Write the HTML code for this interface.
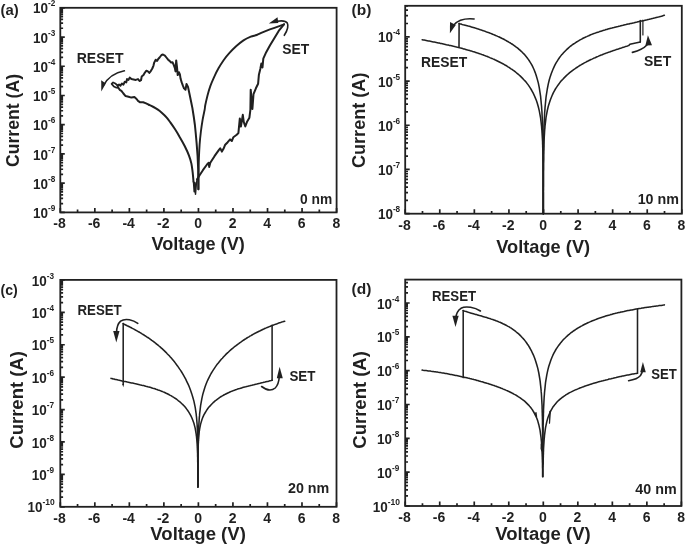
<!DOCTYPE html>
<html><head><meta charset="utf-8"><title>I-V curves</title>
<style>html,body{margin:0;padding:0;background:#fff}svg{display:block;filter:grayscale(1)}text{font-family:"Liberation Sans", sans-serif}</style>
</head><body>
<svg width="685" height="545" viewBox="0 0 685 545" font-family='"Liberation Sans", sans-serif' fill="#231f20">
<rect width="685" height="545" fill="#fff"/>
<rect x="60.30" y="7.80" width="276.30" height="204.60" fill="none" stroke="#231f20" stroke-width="1.8"/>
<path d="M60.30,212.40v-4.50M77.57,212.40v-2.80M94.84,212.40v-4.50M112.11,212.40v-2.80M129.38,212.40v-4.50M146.64,212.40v-2.80M163.91,212.40v-4.50M181.18,212.40v-2.80M198.45,212.40v-4.50M215.72,212.40v-2.80M232.99,212.40v-4.50M250.26,212.40v-2.80M267.53,212.40v-4.50M284.79,212.40v-2.80M302.06,212.40v-4.50M319.33,212.40v-2.80M336.60,212.40v-4.50M60.30,212.40h4.50M60.30,203.60h2.80M60.30,198.45h2.80M60.30,194.80h2.80M60.30,191.97h2.80M60.30,189.66h2.80M60.30,187.70h2.80M60.30,186.00h2.80M60.30,184.51h2.80M60.30,183.17h4.50M60.30,174.37h2.80M60.30,169.23h2.80M60.30,165.57h2.80M60.30,162.74h2.80M60.30,160.43h2.80M60.30,158.47h2.80M60.30,156.78h2.80M60.30,155.28h2.80M60.30,153.94h4.50M60.30,145.14h2.80M60.30,140.00h2.80M60.30,136.35h2.80M60.30,133.51h2.80M60.30,131.20h2.80M60.30,129.24h2.80M60.30,127.55h2.80M60.30,126.05h2.80M60.30,124.71h4.50M60.30,115.92h2.80M60.30,110.77h2.80M60.30,107.12h2.80M60.30,104.28h2.80M60.30,101.97h2.80M60.30,100.01h2.80M60.30,98.32h2.80M60.30,96.82h2.80M60.30,95.49h4.50M60.30,86.69h2.80M60.30,81.54h2.80M60.30,77.89h2.80M60.30,75.06h2.80M60.30,72.74h2.80M60.30,70.78h2.80M60.30,69.09h2.80M60.30,67.59h2.80M60.30,66.26h4.50M60.30,57.46h2.80M60.30,52.31h2.80M60.30,48.66h2.80M60.30,45.83h2.80M60.30,43.51h2.80M60.30,41.56h2.80M60.30,39.86h2.80M60.30,38.37h2.80M60.30,37.03h4.50M60.30,28.23h2.80M60.30,23.08h2.80M60.30,19.43h2.80M60.30,16.60h2.80M60.30,14.28h2.80M60.30,12.33h2.80M60.30,10.63h2.80M60.30,9.14h2.80M60.30,7.80h4.50" fill="none" stroke="#231f20" stroke-width="1.7"/>
<text x="59.60" y="228.20" font-size="14" font-weight="bold" text-anchor="middle">-8</text>
<text x="94.14" y="228.20" font-size="14" font-weight="bold" text-anchor="middle">-6</text>
<text x="128.68" y="228.20" font-size="14" font-weight="bold" text-anchor="middle">-4</text>
<text x="163.21" y="228.20" font-size="14" font-weight="bold" text-anchor="middle">-2</text>
<text x="198.15" y="228.20" font-size="14" font-weight="bold" text-anchor="middle">0</text>
<text x="232.69" y="228.20" font-size="14" font-weight="bold" text-anchor="middle">2</text>
<text x="267.23" y="228.20" font-size="14" font-weight="bold" text-anchor="middle">4</text>
<text x="301.76" y="228.20" font-size="14" font-weight="bold" text-anchor="middle">6</text>
<text x="336.30" y="228.20" font-size="14" font-weight="bold" text-anchor="middle">8</text>
<text x="48.00" y="218.00" font-size="14.5" font-weight="bold" text-anchor="end" textLength="15.0" lengthAdjust="spacingAndGlyphs">10</text>
<text x="48.00" y="211.00" font-size="8.4" font-weight="bold" text-anchor="start" textLength="7.3" lengthAdjust="spacingAndGlyphs">-9</text>
<text x="48.00" y="188.77" font-size="14.5" font-weight="bold" text-anchor="end" textLength="15.0" lengthAdjust="spacingAndGlyphs">10</text>
<text x="48.00" y="181.77" font-size="8.4" font-weight="bold" text-anchor="start" textLength="7.3" lengthAdjust="spacingAndGlyphs">-8</text>
<text x="48.00" y="159.54" font-size="14.5" font-weight="bold" text-anchor="end" textLength="15.0" lengthAdjust="spacingAndGlyphs">10</text>
<text x="48.00" y="152.54" font-size="8.4" font-weight="bold" text-anchor="start" textLength="7.3" lengthAdjust="spacingAndGlyphs">-7</text>
<text x="48.00" y="130.31" font-size="14.5" font-weight="bold" text-anchor="end" textLength="15.0" lengthAdjust="spacingAndGlyphs">10</text>
<text x="48.00" y="123.31" font-size="8.4" font-weight="bold" text-anchor="start" textLength="7.3" lengthAdjust="spacingAndGlyphs">-6</text>
<text x="48.00" y="101.09" font-size="14.5" font-weight="bold" text-anchor="end" textLength="15.0" lengthAdjust="spacingAndGlyphs">10</text>
<text x="48.00" y="94.09" font-size="8.4" font-weight="bold" text-anchor="start" textLength="7.3" lengthAdjust="spacingAndGlyphs">-5</text>
<text x="48.00" y="71.86" font-size="14.5" font-weight="bold" text-anchor="end" textLength="15.0" lengthAdjust="spacingAndGlyphs">10</text>
<text x="48.00" y="64.86" font-size="8.4" font-weight="bold" text-anchor="start" textLength="7.3" lengthAdjust="spacingAndGlyphs">-4</text>
<text x="48.00" y="42.63" font-size="14.5" font-weight="bold" text-anchor="end" textLength="15.0" lengthAdjust="spacingAndGlyphs">10</text>
<text x="48.00" y="35.63" font-size="8.4" font-weight="bold" text-anchor="start" textLength="7.3" lengthAdjust="spacingAndGlyphs">-3</text>
<text x="48.00" y="13.40" font-size="14.5" font-weight="bold" text-anchor="end" textLength="15.0" lengthAdjust="spacingAndGlyphs">10</text>
<text x="48.00" y="6.40" font-size="8.4" font-weight="bold" text-anchor="start" textLength="7.3" lengthAdjust="spacingAndGlyphs">-2</text>
<rect x="405.20" y="5.80" width="276.60" height="207.90" fill="none" stroke="#231f20" stroke-width="1.8"/>
<path d="M405.20,213.70v-4.50M422.49,213.70v-2.80M439.77,213.70v-4.50M457.06,213.70v-2.80M474.35,213.70v-4.50M491.64,213.70v-2.80M508.93,213.70v-4.50M526.21,213.70v-2.80M543.50,213.70v-4.50M560.79,213.70v-2.80M578.08,213.70v-4.50M595.36,213.70v-2.80M612.65,213.70v-4.50M629.94,213.70v-2.80M647.23,213.70v-4.50M664.51,213.70v-2.80M681.80,213.70v-4.50M405.20,213.70h4.50M405.20,200.39h2.80M405.20,192.60h2.80M405.20,187.07h2.80M405.20,182.79h2.80M405.20,179.29h2.80M405.20,176.33h2.80M405.20,173.76h2.80M405.20,171.50h2.80M405.20,169.47h4.50M405.20,156.16h2.80M405.20,148.37h2.80M405.20,142.85h2.80M405.20,138.56h2.80M405.20,135.06h2.80M405.20,132.10h2.80M405.20,129.54h2.80M405.20,127.27h2.80M405.20,125.25h4.50M405.20,111.94h2.80M405.20,104.15h2.80M405.20,98.62h2.80M405.20,94.34h2.80M405.20,90.84h2.80M405.20,87.88h2.80M405.20,85.31h2.80M405.20,83.05h2.80M405.20,81.03h4.50M405.20,67.71h2.80M405.20,59.92h2.80M405.20,54.40h2.80M405.20,50.11h2.80M405.20,46.61h2.80M405.20,43.65h2.80M405.20,41.09h2.80M405.20,38.82h2.80M405.20,36.80h4.50M405.20,23.49h2.80M405.20,15.70h2.80M405.20,10.17h2.80M405.20,5.89h2.80" fill="none" stroke="#231f20" stroke-width="1.7"/>
<text x="404.50" y="229.50" font-size="14" font-weight="bold" text-anchor="middle">-8</text>
<text x="439.07" y="229.50" font-size="14" font-weight="bold" text-anchor="middle">-6</text>
<text x="473.65" y="229.50" font-size="14" font-weight="bold" text-anchor="middle">-4</text>
<text x="508.23" y="229.50" font-size="14" font-weight="bold" text-anchor="middle">-2</text>
<text x="543.20" y="229.50" font-size="14" font-weight="bold" text-anchor="middle">0</text>
<text x="577.78" y="229.50" font-size="14" font-weight="bold" text-anchor="middle">2</text>
<text x="612.35" y="229.50" font-size="14" font-weight="bold" text-anchor="middle">4</text>
<text x="646.93" y="229.50" font-size="14" font-weight="bold" text-anchor="middle">6</text>
<text x="681.50" y="229.50" font-size="14" font-weight="bold" text-anchor="middle">8</text>
<text x="392.90" y="219.30" font-size="14.5" font-weight="bold" text-anchor="end" textLength="15.0" lengthAdjust="spacingAndGlyphs">10</text>
<text x="392.90" y="212.30" font-size="8.4" font-weight="bold" text-anchor="start" textLength="7.3" lengthAdjust="spacingAndGlyphs">-8</text>
<text x="392.90" y="175.07" font-size="14.5" font-weight="bold" text-anchor="end" textLength="15.0" lengthAdjust="spacingAndGlyphs">10</text>
<text x="392.90" y="168.07" font-size="8.4" font-weight="bold" text-anchor="start" textLength="7.3" lengthAdjust="spacingAndGlyphs">-7</text>
<text x="392.90" y="130.85" font-size="14.5" font-weight="bold" text-anchor="end" textLength="15.0" lengthAdjust="spacingAndGlyphs">10</text>
<text x="392.90" y="123.85" font-size="8.4" font-weight="bold" text-anchor="start" textLength="7.3" lengthAdjust="spacingAndGlyphs">-6</text>
<text x="392.90" y="86.62" font-size="14.5" font-weight="bold" text-anchor="end" textLength="15.0" lengthAdjust="spacingAndGlyphs">10</text>
<text x="392.90" y="79.62" font-size="8.4" font-weight="bold" text-anchor="start" textLength="7.3" lengthAdjust="spacingAndGlyphs">-5</text>
<text x="392.90" y="42.40" font-size="14.5" font-weight="bold" text-anchor="end" textLength="15.0" lengthAdjust="spacingAndGlyphs">10</text>
<text x="392.90" y="35.40" font-size="8.4" font-weight="bold" text-anchor="start" textLength="7.3" lengthAdjust="spacingAndGlyphs">-4</text>
<rect x="60.30" y="279.90" width="276.20" height="226.90" fill="none" stroke="#231f20" stroke-width="1.8"/>
<path d="M60.30,506.80v-4.50M77.56,506.80v-2.80M94.83,506.80v-4.50M112.09,506.80v-2.80M129.35,506.80v-4.50M146.61,506.80v-2.80M163.88,506.80v-4.50M181.14,506.80v-2.80M198.40,506.80v-4.50M215.66,506.80v-2.80M232.93,506.80v-4.50M250.19,506.80v-2.80M267.45,506.80v-4.50M284.71,506.80v-2.80M301.98,506.80v-4.50M319.24,506.80v-2.80M336.50,506.80v-4.50M60.30,506.80h4.50M60.30,497.04h2.80M60.30,491.33h2.80M60.30,487.28h2.80M60.30,484.14h2.80M60.30,481.58h2.80M60.30,479.41h2.80M60.30,477.53h2.80M60.30,475.87h2.80M60.30,474.39h4.50M60.30,464.63h2.80M60.30,458.92h2.80M60.30,454.87h2.80M60.30,451.73h2.80M60.30,449.16h2.80M60.30,446.99h2.80M60.30,445.11h2.80M60.30,443.45h2.80M60.30,441.97h4.50M60.30,432.21h2.80M60.30,426.51h2.80M60.30,422.46h2.80M60.30,419.31h2.80M60.30,416.75h2.80M60.30,414.58h2.80M60.30,412.70h2.80M60.30,411.04h2.80M60.30,409.56h4.50M60.30,399.80h2.80M60.30,394.09h2.80M60.30,390.04h2.80M60.30,386.90h2.80M60.30,384.33h2.80M60.30,382.16h2.80M60.30,380.28h2.80M60.30,378.63h2.80M60.30,377.14h4.50M60.30,367.39h2.80M60.30,361.68h2.80M60.30,357.63h2.80M60.30,354.49h2.80M60.30,351.92h2.80M60.30,349.75h2.80M60.30,347.87h2.80M60.30,346.21h2.80M60.30,344.73h4.50M60.30,334.97h2.80M60.30,329.26h2.80M60.30,325.21h2.80M60.30,322.07h2.80M60.30,319.51h2.80M60.30,317.34h2.80M60.30,315.46h2.80M60.30,313.80h2.80M60.30,312.31h4.50M60.30,302.56h2.80M60.30,296.85h2.80M60.30,292.80h2.80M60.30,289.66h2.80M60.30,287.09h2.80M60.30,284.92h2.80M60.30,283.04h2.80M60.30,281.38h2.80M60.30,279.90h4.50" fill="none" stroke="#231f20" stroke-width="1.7"/>
<text x="59.60" y="522.60" font-size="14" font-weight="bold" text-anchor="middle">-8</text>
<text x="94.13" y="522.60" font-size="14" font-weight="bold" text-anchor="middle">-6</text>
<text x="128.65" y="522.60" font-size="14" font-weight="bold" text-anchor="middle">-4</text>
<text x="163.18" y="522.60" font-size="14" font-weight="bold" text-anchor="middle">-2</text>
<text x="198.10" y="522.60" font-size="14" font-weight="bold" text-anchor="middle">0</text>
<text x="232.62" y="522.60" font-size="14" font-weight="bold" text-anchor="middle">2</text>
<text x="267.15" y="522.60" font-size="14" font-weight="bold" text-anchor="middle">4</text>
<text x="301.68" y="522.60" font-size="14" font-weight="bold" text-anchor="middle">6</text>
<text x="336.20" y="522.60" font-size="14" font-weight="bold" text-anchor="middle">8</text>
<text x="42.40" y="512.40" font-size="14.5" font-weight="bold" text-anchor="end" textLength="15.0" lengthAdjust="spacingAndGlyphs">10</text>
<text x="42.40" y="505.40" font-size="8.4" font-weight="bold" text-anchor="start" textLength="12.3" lengthAdjust="spacingAndGlyphs">-10</text>
<text x="46.80" y="479.99" font-size="14.5" font-weight="bold" text-anchor="end" textLength="15.0" lengthAdjust="spacingAndGlyphs">10</text>
<text x="46.80" y="472.99" font-size="8.4" font-weight="bold" text-anchor="start" textLength="7.3" lengthAdjust="spacingAndGlyphs">-9</text>
<text x="46.80" y="447.57" font-size="14.5" font-weight="bold" text-anchor="end" textLength="15.0" lengthAdjust="spacingAndGlyphs">10</text>
<text x="46.80" y="440.57" font-size="8.4" font-weight="bold" text-anchor="start" textLength="7.3" lengthAdjust="spacingAndGlyphs">-8</text>
<text x="46.80" y="415.16" font-size="14.5" font-weight="bold" text-anchor="end" textLength="15.0" lengthAdjust="spacingAndGlyphs">10</text>
<text x="46.80" y="408.16" font-size="8.4" font-weight="bold" text-anchor="start" textLength="7.3" lengthAdjust="spacingAndGlyphs">-7</text>
<text x="46.80" y="382.74" font-size="14.5" font-weight="bold" text-anchor="end" textLength="15.0" lengthAdjust="spacingAndGlyphs">10</text>
<text x="46.80" y="375.74" font-size="8.4" font-weight="bold" text-anchor="start" textLength="7.3" lengthAdjust="spacingAndGlyphs">-6</text>
<text x="46.80" y="350.33" font-size="14.5" font-weight="bold" text-anchor="end" textLength="15.0" lengthAdjust="spacingAndGlyphs">10</text>
<text x="46.80" y="343.33" font-size="8.4" font-weight="bold" text-anchor="start" textLength="7.3" lengthAdjust="spacingAndGlyphs">-5</text>
<text x="46.80" y="317.91" font-size="14.5" font-weight="bold" text-anchor="end" textLength="15.0" lengthAdjust="spacingAndGlyphs">10</text>
<text x="46.80" y="310.91" font-size="8.4" font-weight="bold" text-anchor="start" textLength="7.3" lengthAdjust="spacingAndGlyphs">-4</text>
<text x="46.80" y="285.50" font-size="14.5" font-weight="bold" text-anchor="end" textLength="15.0" lengthAdjust="spacingAndGlyphs">10</text>
<text x="46.80" y="278.50" font-size="8.4" font-weight="bold" text-anchor="start" textLength="7.3" lengthAdjust="spacingAndGlyphs">-3</text>
<rect x="405.20" y="279.60" width="276.20" height="226.40" fill="none" stroke="#231f20" stroke-width="1.8"/>
<path d="M405.20,506.00v-4.50M422.46,506.00v-2.80M439.72,506.00v-4.50M456.99,506.00v-2.80M474.25,506.00v-4.50M491.51,506.00v-2.80M508.77,506.00v-4.50M526.04,506.00v-2.80M543.30,506.00v-4.50M560.56,506.00v-2.80M577.82,506.00v-4.50M595.09,506.00v-2.80M612.35,506.00v-4.50M629.61,506.00v-2.80M646.88,506.00v-4.50M664.14,506.00v-2.80M681.40,506.00v-4.50M405.20,506.00h4.50M405.20,495.82h2.80M405.20,489.86h2.80M405.20,485.63h2.80M405.20,482.35h2.80M405.20,479.67h2.80M405.20,477.41h2.80M405.20,475.45h2.80M405.20,473.72h2.80M405.20,472.17h4.50M405.20,461.98h2.80M405.20,456.02h2.80M405.20,451.80h2.80M405.20,448.52h2.80M405.20,445.84h2.80M405.20,443.57h2.80M405.20,441.61h2.80M405.20,439.88h2.80M405.20,438.33h4.50M405.20,428.15h2.80M405.20,422.19h2.80M405.20,417.96h2.80M405.20,414.69h2.80M405.20,412.01h2.80M405.20,409.74h2.80M405.20,407.78h2.80M405.20,406.05h2.80M405.20,404.50h4.50M405.20,394.32h2.80M405.20,388.36h2.80M405.20,384.13h2.80M405.20,380.85h2.80M405.20,378.17h2.80M405.20,375.91h2.80M405.20,373.95h2.80M405.20,372.22h2.80M405.20,370.67h4.50M405.20,360.48h2.80M405.20,354.53h2.80M405.20,350.30h2.80M405.20,347.02h2.80M405.20,344.34h2.80M405.20,342.08h2.80M405.20,340.11h2.80M405.20,338.38h2.80M405.20,336.84h4.50M405.20,326.65h2.80M405.20,320.69h2.80M405.20,316.47h2.80M405.20,313.19h2.80M405.20,310.51h2.80M405.20,308.24h2.80M405.20,306.28h2.80M405.20,304.55h2.80M405.20,303.00h4.50M405.20,292.82h2.80M405.20,286.86h2.80M405.20,282.63h2.80" fill="none" stroke="#231f20" stroke-width="1.7"/>
<text x="404.50" y="521.80" font-size="14" font-weight="bold" text-anchor="middle">-8</text>
<text x="439.02" y="521.80" font-size="14" font-weight="bold" text-anchor="middle">-6</text>
<text x="473.55" y="521.80" font-size="14" font-weight="bold" text-anchor="middle">-4</text>
<text x="508.07" y="521.80" font-size="14" font-weight="bold" text-anchor="middle">-2</text>
<text x="543.00" y="521.80" font-size="14" font-weight="bold" text-anchor="middle">0</text>
<text x="577.52" y="521.80" font-size="14" font-weight="bold" text-anchor="middle">2</text>
<text x="612.05" y="521.80" font-size="14" font-weight="bold" text-anchor="middle">4</text>
<text x="646.58" y="521.80" font-size="14" font-weight="bold" text-anchor="middle">6</text>
<text x="681.10" y="521.80" font-size="14" font-weight="bold" text-anchor="middle">8</text>
<text x="387.70" y="511.60" font-size="14.5" font-weight="bold" text-anchor="end" textLength="15.0" lengthAdjust="spacingAndGlyphs">10</text>
<text x="387.70" y="504.60" font-size="8.4" font-weight="bold" text-anchor="start" textLength="12.3" lengthAdjust="spacingAndGlyphs">-10</text>
<text x="392.10" y="477.77" font-size="14.5" font-weight="bold" text-anchor="end" textLength="15.0" lengthAdjust="spacingAndGlyphs">10</text>
<text x="392.10" y="470.77" font-size="8.4" font-weight="bold" text-anchor="start" textLength="7.3" lengthAdjust="spacingAndGlyphs">-9</text>
<text x="392.10" y="443.93" font-size="14.5" font-weight="bold" text-anchor="end" textLength="15.0" lengthAdjust="spacingAndGlyphs">10</text>
<text x="392.10" y="436.93" font-size="8.4" font-weight="bold" text-anchor="start" textLength="7.3" lengthAdjust="spacingAndGlyphs">-8</text>
<text x="392.10" y="410.10" font-size="14.5" font-weight="bold" text-anchor="end" textLength="15.0" lengthAdjust="spacingAndGlyphs">10</text>
<text x="392.10" y="403.10" font-size="8.4" font-weight="bold" text-anchor="start" textLength="7.3" lengthAdjust="spacingAndGlyphs">-7</text>
<text x="392.10" y="376.27" font-size="14.5" font-weight="bold" text-anchor="end" textLength="15.0" lengthAdjust="spacingAndGlyphs">10</text>
<text x="392.10" y="369.27" font-size="8.4" font-weight="bold" text-anchor="start" textLength="7.3" lengthAdjust="spacingAndGlyphs">-6</text>
<text x="392.10" y="342.44" font-size="14.5" font-weight="bold" text-anchor="end" textLength="15.0" lengthAdjust="spacingAndGlyphs">10</text>
<text x="392.10" y="335.44" font-size="8.4" font-weight="bold" text-anchor="start" textLength="7.3" lengthAdjust="spacingAndGlyphs">-5</text>
<text x="392.10" y="308.60" font-size="14.5" font-weight="bold" text-anchor="end" textLength="15.0" lengthAdjust="spacingAndGlyphs">10</text>
<text x="392.10" y="301.60" font-size="8.4" font-weight="bold" text-anchor="start" textLength="7.3" lengthAdjust="spacingAndGlyphs">-4</text>
<text x="198.15" y="249.80" font-size="17.5" font-weight="bold" text-anchor="middle" textLength="93.3" lengthAdjust="spacingAndGlyphs">Voltage (V)</text>
<text transform="translate(19.20,120.50) rotate(-90)" font-size="17.5" font-weight="bold" text-anchor="middle" textLength="93.0" lengthAdjust="spacingAndGlyphs">Current (A)</text>
<text x="543.20" y="252.90" font-size="17.8" font-weight="bold" text-anchor="middle" textLength="93.8" lengthAdjust="spacingAndGlyphs">Voltage (V)</text>
<text transform="translate(365.30,120.30) rotate(-90)" font-size="17.8" font-weight="bold" text-anchor="middle" textLength="95.5" lengthAdjust="spacingAndGlyphs">Current (A)</text>
<text x="198.10" y="539.80" font-size="18.3" font-weight="bold" text-anchor="middle" textLength="95.5" lengthAdjust="spacingAndGlyphs">Voltage (V)</text>
<text transform="translate(22.60,399.90) rotate(-90)" font-size="18.3" font-weight="bold" text-anchor="middle" textLength="97.5" lengthAdjust="spacingAndGlyphs">Current (A)</text>
<text x="543.00" y="540.00" font-size="18.3" font-weight="bold" text-anchor="middle" textLength="95.5" lengthAdjust="spacingAndGlyphs">Voltage (V)</text>
<text transform="translate(365.80,399.90) rotate(-90)" font-size="18.3" font-weight="bold" text-anchor="middle" textLength="97.5" lengthAdjust="spacingAndGlyphs">Current (A)</text>
<text x="0.50" y="14.90" font-size="15" font-weight="bold" text-anchor="start" textLength="18.2" lengthAdjust="spacingAndGlyphs">(a)</text>
<text x="351.50" y="14.60" font-size="15" font-weight="bold" text-anchor="start" textLength="19.8" lengthAdjust="spacingAndGlyphs">(b)</text>
<text x="0.50" y="294.80" font-size="15" font-weight="bold" text-anchor="start" textLength="17.3" lengthAdjust="spacingAndGlyphs">(c)</text>
<text x="351.50" y="294.30" font-size="15" font-weight="bold" text-anchor="start" textLength="19.8" lengthAdjust="spacingAndGlyphs">(d)</text>
<text x="332.20" y="203.80" font-size="13.8" font-weight="bold" text-anchor="end">0 nm</text>
<text x="679.00" y="204.00" font-size="14.3" font-weight="bold" text-anchor="end">10 nm</text>
<text x="329.30" y="493.20" font-size="14.3" font-weight="bold" text-anchor="end">20 nm</text>
<text x="676.70" y="493.70" font-size="14.3" font-weight="bold" text-anchor="end">40 nm</text>
<path d="M117.5,85.4 L115.3,83.5 L113.1,82.4 L111.6,83.9 L113.8,86.4 L116.0,87.6 L118.2,87.6 L117.5,85.4" fill="none" stroke="#231f20" stroke-width="1.7" stroke-linejoin="round" stroke-linecap="round"/>
<path d="M117.5,85.4 L119.0,84.6 L120.4,85.8 L121.9,83.5 L123.4,84.6 L124.8,81.7 L126.3,82.4 L127.0,79.1 L128.5,79.9 L129.7,77.6 L131.4,79.1 L133.6,79.5 L135.8,79.9 L138.0,79.1 L139.5,81.0 L141.0,80.2 L141.7,76.6 L143.5,75.1 L144.9,72.6 L146.4,70.7 L147.9,71.4 L149.3,72.9 L150.8,71.1 L152.3,68.5 L153.5,65.6 L154.2,62.6 L155.7,59.7 L157.1,60.9 L158.2,59.0 L159.6,57.5 L161.5,55.0 L163.0,54.5 L164.9,55.6 L166.4,57.5 L168.1,59.7 L169.6,60.9 L171.1,62.6 L172.5,62.3 L173.7,64.8 L174.8,67.8 L175.5,71.4 L176.2,60.4 L177.0,67.0 L177.7,75.1 L178.9,72.2 L179.9,74.4 L180.6,78.8 L181.7,82.4 L182.8,85.4 L184.0,88.3 L185.5,89.8 L186.5,83.9 L188.0,86.9 L189.4,93.5 L190.9,100.8 L192.4,108.1 L193.8,117.0 L194.9,125.0 L195.7,133.0 L196.6,143.0 L197.6,156.2 L198.2,169.4 L198.4,189.2" fill="none" stroke="#231f20" stroke-width="2.0" stroke-linejoin="round" stroke-linecap="round"/>
<path d="M198.4,189.2 C198.4,186.4 198.5,177.9 198.6,172.7 C198.7,167.5 198.7,162.6 198.9,157.9 C199.1,153.2 199.3,149.1 199.6,144.7 C199.9,140.3 200.4,135.6 200.9,131.5 C201.4,127.4 202.0,123.5 202.6,119.9 C203.2,116.3 204.1,112.5 204.6,110.0 C205.1,107.5 204.8,107.4 205.3,105.0 C205.8,102.6 206.7,98.7 207.5,95.5 C208.3,92.3 209.3,89.0 210.4,85.9 C211.5,82.8 212.8,80.0 214.1,77.1 C215.4,74.2 216.9,71.1 218.5,68.3 C220.1,65.5 221.8,62.8 223.6,60.2 C225.4,57.6 227.4,55.2 229.5,52.9 C231.6,50.6 233.8,48.4 236.1,46.3 C238.4,44.2 241.1,42.0 243.5,40.4 C245.9,38.8 248.6,37.6 250.8,36.7 C253.0,35.8 254.8,35.7 256.7,35.0 C258.6,34.3 260.3,33.2 262.5,32.3 C264.7,31.4 267.4,30.3 269.9,29.4 C272.3,28.5 274.8,27.6 277.2,26.8 C279.6,26.0 282.9,24.7 284.0,24.3" fill="none" stroke="#231f20" stroke-width="1.9" stroke-linejoin="round" stroke-linecap="round"/>
<path d="M118.2,87.6 L119.7,89.8 L121.4,90.8 L123.4,93.5 L125.6,96.1 L128.5,96.7 L131.4,97.6 L134.4,97.1 L136.6,99.0 L138.0,100.8 L140.2,102.3 L143.2,102.3 L146.1,103.4 L149.1,104.9" fill="none" stroke="#231f20" stroke-width="2.0" stroke-linejoin="round" stroke-linecap="round"/>
<path d="M149.1,104.9 C149.8,105.2 152.0,106.2 153.5,107.0 C155.0,107.8 156.4,108.7 157.9,109.7 C159.4,110.7 160.8,111.9 162.3,113.2 C163.8,114.5 165.3,116.0 166.7,117.6 C168.1,119.2 169.1,120.7 170.5,122.6 C171.9,124.5 173.3,126.6 174.9,129.0 C176.5,131.4 178.2,134.3 179.8,137.2 C181.5,140.1 183.3,143.3 184.8,146.3 C186.3,149.3 187.8,152.5 188.9,155.4 C190.0,158.3 190.8,160.7 191.4,163.6 C192.0,166.5 192.3,169.7 192.7,172.7 C193.0,175.7 193.4,180.3 193.5,181.8" fill="none" stroke="#231f20" stroke-width="2.0" stroke-linejoin="round" stroke-linecap="round"/>
<path d="M193.5,181.8 L194.2,191.7 L194.8,182.6 L195.5,194.2 L196.3,184.3 L197.1,179.3" fill="none" stroke="#231f20" stroke-width="1.5" stroke-linejoin="round" stroke-linecap="round"/>
<path d="M197.1,179.3 L199.6,175.2 L202.9,170.2 L207.0,164.5 L208.7,162.8 L209.2,166.9 L210.3,162.8 L214.5,156.2 L218.6,150.4 L220.2,148.3 L221.9,151.6 L223.5,148.8 L225.2,144.7 L227.7,142.2 L230.1,139.4 L231.8,141.0 L233.4,137.2 L236.7,134.8 L238.4,133.1 L239.8,118.5 L240.9,126.5 L242.8,114.8 L243.8,122.1 L245.3,126.5 L247.2,121.4 L249.4,117.7 L250.4,109.6 L250.7,89.7 L252.4,108.9 L253.5,94.2 L255.9,88.3 L258.1,83.8 L258.9,74.7 L260.3,69.0 L261.3,63.6 L262.5,67.5 L263.3,58.6 L266.2,52.2 L269.9,45.6 L274.3,38.2 L278.7,30.9 L284.0,24.3" fill="none" stroke="#231f20" stroke-width="2.0" stroke-linejoin="round" stroke-linecap="round"/>
<path d="M124.4,70.8 C116,72.5 108,77 103.5,85.5" fill="none" stroke="#231f20" stroke-width="1.6" stroke-linecap="round"/>
<path d="M101.3,91.6 L101.2,80.3 L105.8,83.6Z" fill="#231f20"/>
<path d="M284.3,35.3 C287,31 288.8,26 287.3,23 C285.5,20.3 281,20.6 277,21.3" fill="none" stroke="#231f20" stroke-width="1.6" stroke-linecap="round"/>
<path d="M268.8,23.6 L277.5,17.3 L278.3,23.0Z" fill="#231f20"/>
<text x="76.70" y="63.40" font-size="15" font-weight="bold" text-anchor="start" textLength="46.8" lengthAdjust="spacingAndGlyphs">RESET</text>
<text x="282.30" y="53.50" font-size="15" font-weight="bold" text-anchor="start" textLength="27.0" lengthAdjust="spacingAndGlyphs">SET</text>
<path d="M543.3,213.7 L543.3,212.4 L543.3,210.3 L543.3,208.2 L543.3,206.0 L543.3,203.9 L543.3,201.8 L543.3,199.7 L543.3,197.6 L543.3,195.5 L543.3,193.3 L543.3,191.2 L543.3,189.1 L543.2,187.0 L543.2,184.9 L543.2,182.8 L543.2,180.7 L543.2,178.6 L543.2,176.4 L543.2,174.3 L543.2,172.2 L543.2,170.1 L543.2,168.0 L543.2,165.9 L543.2,163.8 L543.1,161.6 L543.1,159.5 L543.1,157.4 L543.1,155.3 L543.1,153.2 L543.1,151.1 L543.0,149.0 L543.0,146.8 L543.0,144.7 L543.0,142.6 L542.9,140.5 L542.9,138.4 L542.8,136.3 L542.8,134.2 L542.7,132.1 L542.7,130.0 L542.6,127.9 L542.6,125.8 L542.5,123.7 L542.4,121.5 L542.3,119.5 L542.2,117.3 L542.1,115.2 L542.0,113.1 L541.9,111.0 L541.7,109.0 L541.6,106.8 L541.4,104.8 L541.2,102.7 L541.0,100.6 L540.8,98.5 L540.6,96.4 L540.3,94.3 L539.3,87.9 L538.3,82.9 L537.2,78.9 L536.2,75.5 L535.2,72.6 L534.2,70.0 L533.2,67.8 L532.2,65.7 L531.2,63.8 L530.1,62.1 L529.1,60.5 L528.1,59.1 L527.1,57.7 L526.1,56.5 L525.1,55.3 L524.1,54.1 L523.0,53.1 L522.0,52.0 L521.0,51.1 L520.0,50.2 L519.0,49.3 L518.0,48.4 L517.0,47.6 L515.9,46.9 L514.9,46.1 L513.9,45.4 L512.9,44.7 L511.9,44.0 L510.9,43.4 L509.9,42.7 L508.8,42.1 L507.8,41.5 L506.8,41.0 L505.8,40.4 L504.8,39.8 L503.8,39.3 L502.8,38.8 L501.7,38.3 L500.7,37.8 L499.7,37.3 L498.7,36.8 L497.7,36.4 L496.6,35.9 L495.6,35.5 L494.6,35.0 L493.6,34.6 L492.6,34.2 L491.6,33.8 L490.6,33.4 L489.6,33.0 L488.5,32.6 L487.5,32.2 L486.5,31.9 L485.5,31.5 L484.5,31.1 L483.5,30.8 L482.4,30.4 L481.4,30.1 L480.4,29.8 L479.4,29.4 L478.4,29.1 L477.4,28.8 L476.4,28.4 L475.3,28.1 L474.3,27.8 L473.3,27.5 L472.3,27.2 L471.3,26.9 L470.3,26.6 L469.2,26.3 L468.2,26.1 L467.2,25.8 L466.2,25.5 L465.2,25.2 L464.2,24.9 L463.2,24.7 L462.1,24.4 L461.1,24.1 L460.1,23.9 L459.1,23.6" fill="none" stroke="#231f20" stroke-width="1.55" stroke-linejoin="round" stroke-linecap="round"/>
<path d="M543.3,213.7 L543.3,212.4 L543.3,210.8 L543.3,209.1 L543.3,207.4 L543.3,205.7 L543.3,204.1 L543.3,202.4 L543.3,200.7 L543.3,199.0 L543.3,197.4 L543.3,195.7 L543.3,194.0 L543.3,192.3 L543.2,190.7 L543.2,189.0 L543.2,187.3 L543.2,185.6 L543.2,184.0 L543.2,182.3 L543.2,180.6 L543.2,178.9 L543.2,177.3 L543.2,175.6 L543.2,173.9 L543.2,172.2 L543.1,170.6 L543.1,168.9 L543.1,167.2 L543.1,165.5 L543.1,163.8 L543.1,162.2 L543.0,160.5 L543.0,158.8 L543.0,157.1 L543.0,155.4 L542.9,153.8 L542.9,152.1 L542.8,150.4 L542.8,148.7 L542.7,147.0 L542.7,145.3 L542.6,143.6 L542.6,141.9 L542.5,140.3 L542.4,138.6 L542.3,136.9 L542.2,135.2 L542.1,133.5 L542.0,131.8 L541.9,130.1 L541.7,128.4 L541.6,126.7 L541.4,124.9 L541.2,123.2 L541.0,121.5 L540.8,119.8 L540.6,118.0 L540.3,116.3 L539.3,110.9 L538.3,106.7 L537.3,103.2 L536.3,100.2 L535.2,97.6 L534.2,95.3 L533.2,93.2 L532.2,91.3 L531.2,89.5 L530.2,87.9 L529.2,86.4 L528.2,84.9 L527.2,83.6 L526.2,82.3 L525.2,81.1 L524.1,80.0 L523.1,78.9 L522.1,77.9 L521.1,76.9 L520.1,75.9 L519.1,75.0 L518.1,74.1 L517.1,73.3 L516.1,72.5 L515.1,71.7 L514.1,70.9 L513.0,70.2 L512.0,69.4 L511.0,68.8 L510.0,68.1 L509.0,67.4 L508.0,66.8 L507.0,66.1 L506.0,65.5 L505.0,65.0 L504.0,64.4 L502.9,63.8 L501.9,63.3 L500.9,62.7 L499.9,62.2 L498.9,61.7 L497.9,61.2 L496.9,60.7 L495.9,60.2 L494.9,59.8 L493.9,59.3 L492.9,58.9 L491.9,58.4 L490.8,58.0 L489.8,57.6 L488.8,57.1 L487.8,56.7 L486.8,56.3 L485.8,56.0 L484.8,55.6 L483.8,55.2 L482.8,54.8 L481.8,54.5 L480.8,54.1 L479.7,53.8 L478.7,53.4 L477.7,53.1 L476.7,52.7 L475.7,52.4 L474.7,52.1 L473.7,51.8 L472.7,51.5 L471.7,51.1 L470.6,50.9 L469.6,50.5 L468.6,50.2 L467.6,50.0 L466.6,49.7 L465.6,49.4 L464.6,49.1 L463.6,48.9 L462.6,48.6 L461.6,48.3 L460.6,48.0 L459.6,47.8 L458.5,47.5 L457.5,47.3 L456.5,47.0 L455.5,46.8 L454.5,46.5 L453.5,46.3 L452.5,46.0 L451.5,45.8 L450.5,45.6 L449.4,45.4 L448.4,45.1 L447.4,44.9 L446.4,44.7 L445.4,44.4 L444.4,44.2 L443.4,44.0 L442.4,43.8 L441.4,43.6 L440.4,43.4 L439.4,43.1 L438.4,42.9 L437.3,42.7 L436.3,42.5 L435.3,42.3 L434.3,42.1 L433.3,41.9 L432.3,41.7 L431.3,41.5 L430.3,41.3 L429.3,41.1 L428.3,40.9 L427.2,40.7 L426.2,40.5 L425.2,40.3 L424.2,40.1 L423.2,39.9 L422.2,39.7" fill="none" stroke="#231f20" stroke-width="1.55" stroke-linejoin="round" stroke-linecap="round"/>
<path d="M543.3,213.7 L543.3,213.3 L543.3,211.2 L543.3,209.1 L543.3,207.1 L543.3,205.0 L543.3,202.9 L543.3,200.9 L543.3,198.8 L543.3,196.8 L543.3,194.7 L543.3,192.6 L543.3,190.6 L543.3,188.5 L543.4,186.4 L543.4,184.4 L543.4,182.3 L543.4,180.2 L543.4,178.2 L543.4,176.1 L543.4,174.1 L543.4,172.0 L543.4,169.9 L543.4,167.9 L543.4,165.8 L543.4,163.7 L543.5,161.7 L543.5,159.6 L543.5,157.5 L543.5,155.5 L543.5,153.4 L543.5,151.3 L543.6,149.3 L543.6,147.2 L543.6,145.2 L543.6,143.1 L543.7,141.0 L543.7,138.9 L543.8,136.9 L543.8,134.8 L543.9,132.8 L543.9,130.7 L544.0,128.6 L544.0,126.5 L544.1,124.5 L544.2,122.4 L544.3,120.3 L544.4,118.3 L544.5,116.2 L544.6,114.1 L544.7,112.0 L544.9,110.0 L545.0,107.9 L545.2,105.8 L545.4,103.7 L545.6,101.7 L545.8,99.6 L546.0,97.5 L546.3,95.4 L547.3,89.0 L548.3,83.9 L549.3,79.8 L550.3,76.4 L551.4,73.3 L552.4,70.7 L553.4,68.3 L554.4,66.2 L555.4,64.2 L556.4,62.4 L557.4,60.8 L558.4,59.2 L559.4,57.8 L560.4,56.4 L561.4,55.1 L562.5,53.9 L563.5,52.8 L564.5,51.7 L565.5,50.7 L566.5,49.7 L567.5,48.8 L568.5,47.9 L569.5,47.0 L570.5,46.2 L571.5,45.5 L572.5,44.7 L573.5,44.0 L574.6,43.3 L575.6,42.6 L576.6,42.0 L577.6,41.4 L578.6,40.8 L579.6,40.2 L580.6,39.6 L581.6,39.1 L582.6,38.5 L583.6,38.0 L584.7,37.5 L585.7,37.0 L586.7,36.6 L587.7,36.1 L588.7,35.7 L589.7,35.2 L590.7,34.8 L591.7,34.4 L592.7,34.0 L593.7,33.6 L594.8,33.3 L595.8,32.9 L596.8,32.5 L597.8,32.2 L598.8,31.9 L599.8,31.5 L600.8,31.2 L601.8,30.9 L602.8,30.6 L603.8,30.2 L604.9,29.9 L605.9,29.6 L606.9,29.4 L607.9,29.1 L608.9,28.8 L609.9,28.5 L610.9,28.2 L611.9,28.0 L612.9,27.7 L613.9,27.5 L614.9,27.2 L616.0,26.9 L617.0,26.7 L618.0,26.5 L619.0,26.2 L620.0,26.0 L621.0,25.7 L622.0,25.5 L623.0,25.3 L624.0,25.0 L625.0,24.8 L626.0,24.6 L627.0,24.3 L628.1,24.1 L629.1,23.9 L630.1,23.6 L631.1,23.4 L632.1,23.2 L633.1,23.0 L634.1,22.8 L635.1,22.5 L636.1,22.3 L637.1,22.1 L638.2,21.8 L639.2,21.6 L640.2,21.4 L641.2,21.1 L642.2,20.9 L643.2,20.7 L644.2,20.5 L645.2,20.2 L646.2,20.0 L647.2,19.8 L648.2,19.5 L649.3,19.3 L650.3,19.0 L651.3,18.8 L652.3,18.5 L653.3,18.3 L654.3,18.0 L655.3,17.8 L656.3,17.5 L657.3,17.2 L658.3,17.0 L659.4,16.7 L660.4,16.4 L661.4,16.2 L662.4,15.9 L663.4,15.6 L664.4,15.3" fill="none" stroke="#231f20" stroke-width="1.55" stroke-linejoin="round" stroke-linecap="round"/>
<path d="M543.3,213.7 L543.3,212.7 L543.3,211.1 L543.3,209.4 L543.3,207.8 L543.3,206.1 L543.3,204.5 L543.3,202.8 L543.3,201.2 L543.3,199.5 L543.3,197.8 L543.3,196.2 L543.3,194.5 L543.3,192.9 L543.3,191.2 L543.4,189.6 L543.4,187.9 L543.4,186.2 L543.4,184.6 L543.4,182.9 L543.4,181.3 L543.4,179.6 L543.4,178.0 L543.4,176.3 L543.4,174.6 L543.4,173.0 L543.4,171.3 L543.5,169.7 L543.5,168.0 L543.5,166.3 L543.5,164.7 L543.5,163.0 L543.5,161.4 L543.6,159.7 L543.6,158.0 L543.6,156.4 L543.6,154.7 L543.7,153.1 L543.7,151.4 L543.8,149.7 L543.8,148.1 L543.9,146.4 L543.9,144.7 L544.0,143.0 L544.0,141.4 L544.1,139.7 L544.2,138.0 L544.3,136.3 L544.4,134.7 L544.5,133.0 L544.6,131.3 L544.7,129.6 L544.9,127.9 L545.0,126.2 L545.2,124.5 L545.4,122.8 L545.6,121.1 L545.8,119.4 L546.0,117.7 L546.3,115.9 L547.3,110.5 L548.3,106.3 L549.4,102.8 L550.4,99.8 L551.4,97.2 L552.4,94.8 L553.4,92.7 L554.4,90.8 L555.4,89.0 L556.5,87.4 L557.5,85.9 L558.5,84.5 L559.5,83.1 L560.5,81.8 L561.5,80.6 L562.6,79.5 L563.6,78.4 L564.6,77.4 L565.6,76.4 L566.6,75.4 L567.6,74.5 L568.6,73.6 L569.7,72.7 L570.7,71.9 L571.7,71.1 L572.7,70.3 L573.7,69.6 L574.8,68.9 L575.8,68.2 L576.8,67.5 L577.8,66.8 L578.8,66.2 L579.8,65.5 L580.9,64.9 L581.9,64.3 L582.9,63.8 L583.9,63.2 L584.9,62.6 L585.9,62.1 L586.9,61.5 L588.0,61.0 L589.0,60.5 L590.0,60.0 L591.0,59.5 L592.0,59.1 L593.0,58.6 L594.0,58.1 L595.1,57.7 L596.1,57.2 L597.1,56.8 L598.1,56.4 L599.1,55.9 L600.1,55.5 L601.2,55.1 L602.2,54.7 L603.2,54.3 L604.2,53.9 L605.2,53.5 L606.2,53.1 L607.3,52.8 L608.3,52.4 L609.3,52.0 L610.3,51.7 L611.3,51.3 L612.3,51.0 L613.4,50.6 L614.4,50.2 L615.4,49.9 L616.4,49.5 L617.4,49.2 L618.4,48.9 L619.5,48.5 L620.5,48.2 L621.5,47.9 L622.5,47.5 L623.5,47.2 L624.5,46.9 L625.5,46.5 L626.6,46.2 L627.6,45.9 L628.6,45.5 L629.0,45.4 L629.9,44.2 L640.3,41.9" fill="none" stroke="#231f20" stroke-width="1.55" stroke-linejoin="round" stroke-linecap="round"/>
<path d="M459.1,23.6 L459.0,47.0" fill="none" stroke="#231f20" stroke-width="1.55" stroke-linejoin="round" stroke-linecap="round"/>
<path d="M640.3,41.9 L640.3,20.6" fill="none" stroke="#231f20" stroke-width="1.55" stroke-linejoin="round" stroke-linecap="round"/>
<path d="M642.9,20.2 L642.9,35.0" fill="none" stroke="#231f20" stroke-width="1.2" stroke-linejoin="round" stroke-linecap="round"/>
<path d="M632.4,52.4 C638,51.0 643.5,48.8 647.2,44.8" fill="none" stroke="#231f20" stroke-width="1.6" stroke-linecap="round"/>
<path d="M647.9,35.2 L645.4,45.6 L652.0,45.2Z" fill="#231f20"/>
<path d="M474.1,19.0 C466,18.2 458.5,19.6 453.8,25" fill="none" stroke="#231f20" stroke-width="1.6" stroke-linecap="round"/>
<path d="M449.9,33.2 L450.0,22.0 L455.8,25.0Z" fill="#231f20"/>
<text x="420.90" y="67.20" font-size="15" font-weight="bold" text-anchor="start" textLength="46.3" lengthAdjust="spacingAndGlyphs">RESET</text>
<text x="644.00" y="66.10" font-size="15" font-weight="bold" text-anchor="start" textLength="27.2" lengthAdjust="spacingAndGlyphs">SET</text>
<path d="M197.9,486.9 L197.9,476.7 L197.9,475.5 L197.9,474.4 L197.9,473.2 L197.9,472.1 L197.9,470.9 L197.9,469.8 L197.9,468.7 L197.9,467.5 L197.9,466.4 L197.9,465.2 L197.9,464.1 L197.9,462.9 L197.9,461.8 L197.9,460.6 L197.8,459.5 L197.8,458.3 L197.8,457.2 L197.8,456.1 L197.8,454.9 L197.8,453.8 L197.8,452.6 L197.8,451.4 L197.8,450.3 L197.8,449.1 L197.8,448.0 L197.8,446.8 L197.8,445.7 L197.7,444.5 L197.7,443.3 L197.7,442.2 L197.7,441.0 L197.7,439.9 L197.6,438.7 L197.6,437.5 L197.6,436.3 L197.6,435.1 L197.5,434.0 L197.5,432.8 L197.4,431.6 L197.4,430.4 L197.3,429.2 L197.3,428.0 L197.2,426.8 L197.2,425.6 L197.1,424.3 L197.0,423.1 L196.9,421.9 L196.8,420.6 L196.7,419.3 L196.6,418.1 L196.5,416.8 L196.3,415.5 L196.2,414.1 L196.0,412.8 L195.8,411.4 L195.6,410.1 L195.4,408.7 L195.2,407.3 L194.9,405.8 L193.9,401.1 L192.8,397.2 L191.8,393.9 L190.8,390.9 L189.8,388.2 L188.8,385.7 L187.7,383.4 L186.7,381.3 L185.7,379.2 L184.7,377.3 L183.6,375.4 L182.6,373.7 L181.6,372.0 L180.6,370.4 L179.5,368.9 L178.5,367.4 L177.5,365.9 L176.4,364.5 L175.4,363.1 L174.4,361.8 L173.4,360.6 L172.3,359.3 L171.3,358.1 L170.3,357.0 L169.3,355.8 L168.2,354.7 L167.2,353.7 L166.2,352.6 L165.2,351.6 L164.2,350.6 L163.1,349.6 L162.1,348.7 L161.1,347.8 L160.1,346.9 L159.0,346.0 L158.0,345.1 L157.0,344.3 L155.9,343.5 L154.9,342.7 L153.9,341.9 L152.9,341.1 L151.8,340.4 L150.8,339.6 L149.8,338.9 L148.8,338.2 L147.8,337.5 L146.7,336.8 L145.7,336.1 L144.7,335.5 L143.7,334.8 L142.6,334.2 L141.6,333.6 L140.6,332.9 L139.6,332.3 L138.5,331.8 L137.5,331.2 L136.5,330.6 L135.4,330.0 L134.4,329.4 L133.4,328.9 L132.4,328.4 L131.3,327.8 L130.3,327.3 L129.3,326.7 L128.3,326.2 L127.2,325.7 L126.2,325.2 L125.2,324.7 L124.2,324.2 L123.2,323.6" fill="none" stroke="#231f20" stroke-width="1.55" stroke-linejoin="round" stroke-linecap="round"/>
<path d="M197.9,486.9 L197.9,486.1 L197.9,485.0 L197.9,483.9 L197.9,482.9 L197.9,481.8 L197.9,480.7 L197.9,479.6 L197.9,478.5 L197.9,477.4 L197.8,476.3 L197.8,475.2 L197.8,474.1 L197.8,473.0 L197.8,471.9 L197.8,470.8 L197.8,469.7 L197.8,468.6 L197.8,467.5 L197.8,466.4 L197.8,465.3 L197.8,464.2 L197.8,463.1 L197.7,462.0 L197.7,460.9 L197.7,459.8 L197.7,458.7 L197.7,457.6 L197.6,456.5 L197.6,455.4 L197.6,454.3 L197.6,453.2 L197.5,452.1 L197.5,451.0 L197.4,449.9 L197.4,448.8 L197.3,447.7 L197.3,446.6 L197.2,445.4 L197.2,444.3 L197.1,443.2 L197.0,442.1 L196.9,441.0 L196.8,439.8 L196.7,438.7 L196.6,437.6 L196.5,436.4 L196.3,435.3 L196.2,434.1 L196.0,433.0 L195.8,431.8 L195.6,430.6 L195.4,429.5 L195.2,428.3 L194.9,427.1 L193.9,423.3 L192.8,420.3 L191.8,417.8 L190.8,415.6 L189.8,413.8 L188.8,412.1 L187.7,410.5 L186.7,409.1 L185.7,407.8 L184.7,406.6 L183.7,405.5 L182.6,404.4 L181.6,403.5 L180.6,402.5 L179.6,401.6 L178.5,400.8 L177.5,400.0 L176.5,399.2 L175.5,398.5 L174.4,397.8 L173.4,397.2 L172.4,396.6 L171.4,395.9 L170.3,395.4 L169.3,394.8 L168.3,394.3 L167.3,393.8 L166.2,393.3 L165.2,392.8 L164.2,392.3 L163.2,391.9 L162.2,391.4 L161.1,391.0 L160.1,390.6 L159.1,390.2 L158.1,389.9 L157.0,389.5 L156.0,389.2 L155.0,388.8 L154.0,388.5 L152.9,388.2 L151.9,387.9 L150.9,387.6 L149.9,387.3 L148.9,387.0 L147.8,386.7 L146.8,386.4 L145.8,386.2 L144.8,385.9 L143.7,385.6 L142.7,385.4 L141.7,385.2 L140.7,384.9 L139.7,384.7 L138.6,384.4 L137.6,384.2 L136.6,384.0 L135.6,383.8 L134.5,383.6 L133.5,383.3 L132.5,383.1 L131.5,382.9 L130.4,382.7 L129.4,382.5 L128.4,382.3 L127.4,382.1 L126.3,381.8 L125.3,381.6 L124.3,381.4 L123.3,381.2 L122.2,381.0 L121.2,380.7 L120.2,380.5 L119.2,380.3 L118.2,380.1 L117.1,379.8 L116.1,379.6 L115.1,379.4 L114.1,379.1 L113.0,378.9 L112.0,378.6 L111.0,378.4" fill="none" stroke="#231f20" stroke-width="1.55" stroke-linejoin="round" stroke-linecap="round"/>
<path d="M197.9,486.9 L197.9,486.0 L197.9,484.4 L197.9,482.8 L197.9,481.1 L197.9,479.5 L197.9,477.9 L197.9,476.3 L197.9,474.7 L198.0,473.1 L198.0,471.5 L198.0,469.9 L198.0,468.2 L198.0,466.6 L198.0,465.0 L198.0,463.4 L198.0,461.8 L198.0,460.1 L198.0,458.5 L198.1,456.9 L198.1,455.3 L198.1,453.7 L198.1,452.1 L198.1,450.4 L198.1,448.8 L198.2,447.2 L198.2,445.6 L198.2,443.9 L198.2,442.3 L198.3,440.7 L198.3,439.1 L198.4,437.4 L198.4,435.8 L198.5,434.1 L198.5,432.5 L198.6,430.9 L198.6,429.2 L198.7,427.6 L198.8,425.9 L198.9,424.3 L199.0,422.6 L199.1,420.9 L199.2,419.3 L199.3,417.6 L199.5,415.9 L199.6,414.2 L199.8,412.5 L200.0,410.8 L200.2,409.1 L200.4,407.4 L200.6,405.7 L200.9,403.9 L201.9,398.4 L202.9,393.9 L204.0,390.3 L205.0,387.1 L206.0,384.3 L207.0,381.8 L208.1,379.4 L209.1,377.3 L210.1,375.4 L211.1,373.5 L212.1,371.8 L213.2,370.1 L214.2,368.6 L215.2,367.1 L216.2,365.6 L217.2,364.3 L218.3,363.0 L219.3,361.7 L220.3,360.5 L221.3,359.3 L222.4,358.2 L223.4,357.1 L224.4,356.0 L225.4,354.9 L226.4,353.9 L227.5,352.9 L228.5,352.0 L229.5,351.0 L230.5,350.1 L231.6,349.2 L232.6,348.4 L233.6,347.5 L234.6,346.7 L235.7,345.9 L236.7,345.1 L237.7,344.3 L238.7,343.6 L239.7,342.8 L240.8,342.1 L241.8,341.4 L242.8,340.7 L243.8,340.0 L244.8,339.3 L245.9,338.7 L246.9,338.0 L247.9,337.4 L248.9,336.8 L249.9,336.1 L251.0,335.6 L252.0,335.0 L253.0,334.4 L254.0,333.8 L255.1,333.3 L256.1,332.7 L257.1,332.2 L258.1,331.7 L259.1,331.2 L260.2,330.7 L261.2,330.2 L262.2,329.7 L263.2,329.2 L264.3,328.8 L265.3,328.3 L266.3,327.9 L267.3,327.4 L268.4,327.0 L269.4,326.6 L270.4,326.2 L271.4,325.8 L272.4,325.4 L273.5,325.0 L274.5,324.6 L275.5,324.2 L276.5,323.9 L277.6,323.5 L278.6,323.1 L279.6,322.8 L280.6,322.5 L281.6,322.1 L282.7,321.8 L283.7,321.5 L284.7,321.2" fill="none" stroke="#231f20" stroke-width="1.55" stroke-linejoin="round" stroke-linecap="round"/>
<path d="M197.9,486.9 L197.9,477.7 L197.9,476.8 L197.9,475.9 L197.9,475.0 L197.9,474.1 L197.9,473.2 L197.9,472.3 L197.9,471.4 L197.9,470.5 L197.9,469.6 L197.9,468.7 L197.9,467.8 L197.9,466.9 L197.9,466.0 L197.9,465.1 L197.9,464.2 L197.9,463.3 L198.0,462.4 L198.0,461.5 L198.0,460.6 L198.0,459.6 L198.0,458.7 L198.0,457.8 L198.0,456.9 L198.0,456.0 L198.0,455.1 L198.0,454.2 L198.1,453.3 L198.1,452.4 L198.1,451.5 L198.1,450.6 L198.1,449.7 L198.1,448.8 L198.2,447.8 L198.2,446.9 L198.2,446.0 L198.2,445.1 L198.3,444.2 L198.3,443.3 L198.4,442.3 L198.4,441.4 L198.5,440.5 L198.5,439.6 L198.6,438.6 L198.6,437.7 L198.7,436.8 L198.8,435.8 L198.9,434.9 L199.0,433.9 L199.1,433.0 L199.2,432.0 L199.3,431.0 L199.5,430.1 L199.6,429.1 L199.8,428.1 L200.0,427.1 L200.2,426.1 L200.4,425.1 L200.6,424.1 L200.9,423.1 L201.9,419.8 L202.9,417.1 L203.9,414.9 L205.0,413.0 L206.0,411.3 L207.0,409.7 L208.0,408.3 L209.0,407.0 L210.1,405.9 L211.1,404.7 L212.1,403.7 L213.1,402.7 L214.1,401.8 L215.1,400.9 L216.2,400.1 L217.2,399.3 L218.2,398.6 L219.2,397.9 L220.2,397.2 L221.2,396.5 L222.3,395.9 L223.3,395.3 L224.3,394.8 L225.3,394.2 L226.3,393.7 L227.3,393.2 L228.4,392.7 L229.4,392.3 L230.4,391.8 L231.4,391.4 L232.4,391.0 L233.4,390.6 L234.5,390.2 L235.5,389.8 L236.5,389.5 L237.5,389.1 L238.5,388.8 L239.6,388.5 L240.6,388.2 L241.6,387.9 L242.6,387.6 L243.6,387.3 L244.6,387.0 L245.7,386.7 L246.7,386.4 L247.7,386.2 L248.7,385.9 L249.7,385.7 L250.7,385.4 L251.8,385.2 L252.8,384.9 L253.8,384.7 L254.8,384.4 L255.8,384.2 L256.8,384.0 L257.9,383.7 L258.9,383.5 L259.9,383.3 L260.9,383.0 L261.9,382.8 L262.9,382.6 L264.0,382.3 L265.0,382.1 L266.0,381.8 L267.0,381.6 L268.0,381.4 L269.1,381.1 L270.1,380.8 L271.1,380.6 L272.1,380.3" fill="none" stroke="#231f20" stroke-width="1.55" stroke-linejoin="round" stroke-linecap="round"/>
<path d="M123.2,323.6 L123.2,384.5" fill="none" stroke="#231f20" stroke-width="1.55" stroke-linejoin="round" stroke-linecap="round"/>
<path d="M122.25,384 L124.05,384 L123.3,387.2Z" fill="#231f20"/>
<path d="M272.1,380.3 L272.1,325.2" fill="none" stroke="#231f20" stroke-width="1.55" stroke-linejoin="round" stroke-linecap="round"/>
<path d="M137.8,323.4 C133.5,320.3 125.5,317.6 120.6,321.2 C117.6,323.8 116.6,328 116.5,333" fill="none" stroke="#231f20" stroke-width="1.6" stroke-linecap="round"/>
<path d="M116.3,342.5 L113.2,331.0 L119.5,331.0Z" fill="#231f20"/>
<path d="M261.6,386.5 C265.2,389.3 270.8,391.6 275.2,388.0 C278.0,385.2 279.0,381 279.3,376.5" fill="none" stroke="#231f20" stroke-width="1.6" stroke-linecap="round"/>
<path d="M279.6,366.7 L276.8,378.3 L282.8,378.3Z" fill="#231f20"/>
<text x="77.50" y="315.00" font-size="15" font-weight="bold" text-anchor="start" textLength="44.2" lengthAdjust="spacingAndGlyphs">RESET</text>
<text x="289.40" y="381.00" font-size="15" font-weight="bold" text-anchor="start" textLength="26.0" lengthAdjust="spacingAndGlyphs">SET</text>
<path d="M542.8,464.0 L542.8,462.6 L542.8,460.8 L542.8,459.1 L542.8,457.3 L542.8,455.6 L542.7,453.8 L542.7,452.1 L542.7,450.3 L542.7,448.6 L542.7,446.8 L542.7,445.1 L542.7,443.3 L542.7,441.6 L542.7,439.8 L542.7,438.0 L542.6,436.3 L542.6,434.5 L542.6,432.8 L542.6,431.0 L542.6,429.3 L542.6,427.5 L542.5,425.8 L542.5,424.0 L542.5,422.2 L542.5,420.5 L542.4,418.7 L542.4,416.9 L542.3,415.2 L542.3,413.4 L542.2,411.6 L542.2,409.8 L542.1,408.1 L542.1,406.3 L542.0,404.5 L541.9,402.7 L541.8,400.9 L541.7,399.1 L541.6,397.3 L541.5,395.5 L541.4,393.7 L541.2,391.9 L541.1,390.1 L540.9,388.2 L540.7,386.4 L540.5,384.6 L540.3,382.7 L540.1,380.8 L539.8,379.0 L538.8,373.0 L537.8,368.4 L536.7,364.5 L535.7,361.2 L534.7,358.3 L533.7,355.7 L532.6,353.4 L531.6,351.2 L530.6,349.3 L529.6,347.5 L528.6,345.8 L527.5,344.3 L526.5,342.8 L525.5,341.4 L524.5,340.1 L523.5,338.9 L522.4,337.8 L521.4,336.7 L520.4,335.6 L519.4,334.6 L518.4,333.7 L517.3,332.8 L516.3,332.0 L515.3,331.1 L514.3,330.4 L513.2,329.6 L512.2,328.9 L511.2,328.2 L510.2,327.6 L509.2,326.9 L508.1,326.4 L507.1,325.8 L506.1,325.2 L505.1,324.7 L504.1,324.2 L503.0,323.7 L502.0,323.2 L501.0,322.7 L500.0,322.3 L498.9,321.9 L497.9,321.4 L496.9,321.1 L495.9,320.7 L494.9,320.3 L493.8,319.9 L492.8,319.6 L491.8,319.2 L490.8,318.9 L489.8,318.5 L488.7,318.2 L487.7,317.9 L486.7,317.6 L485.7,317.3 L484.6,317.0 L483.6,316.7 L482.6,316.4 L481.6,316.1 L480.6,315.8 L479.5,315.5 L478.5,315.2 L477.5,314.9 L476.5,314.6 L475.5,314.4 L474.4,314.1 L473.4,313.8 L472.4,313.5 L471.4,313.2 L470.4,312.9 L469.3,312.6 L468.3,312.3 L467.3,311.9 L466.3,311.6 L465.2,311.3 L464.2,311.0 L463.2,310.6" fill="none" stroke="#231f20" stroke-width="1.55" stroke-linejoin="round" stroke-linecap="round"/>
<path d="M542.6,476.7 L542.6,476.4 L542.6,474.9 L542.6,473.4 L542.6,472.0 L542.6,470.5 L542.6,469.0 L542.5,467.5 L542.5,466.1 L542.5,464.6 L542.5,463.1 L542.4,461.6 L542.4,460.1 L542.3,458.7 L542.3,457.2 L542.2,455.7 L542.2,454.2 L542.1,452.8 L542.1,451.3 L542.0,449.8 L541.9,448.3 L541.8,446.9 L541.7,445.4 L541.6,443.9 L541.5,442.4 L541.4,441.0 L541.2,439.5 L541.1,438.0 L540.9,436.6 L540.7,435.1 L540.5,433.6 L540.3,432.1 L540.1,430.7 L539.8,429.2 L538.8,424.7 L537.8,421.1 L536.8,418.3 L535.7,415.9 L534.7,413.8 L533.7,412.0 L532.7,410.3 L531.7,408.9 L530.7,407.5 L529.6,406.3 L528.6,405.1 L527.6,404.1 L526.6,403.1 L525.6,402.1 L524.6,401.2 L523.6,400.4 L522.5,399.6 L521.5,398.9 L520.5,398.1 L519.5,397.4 L518.5,396.8 L517.5,396.1 L516.5,395.5 L515.5,394.9 L514.4,394.4 L513.4,393.8 L512.4,393.3 L511.4,392.7 L510.4,392.2 L509.4,391.7 L508.4,391.3 L507.3,390.8 L506.3,390.4 L505.3,389.9 L504.3,389.5 L503.3,389.1 L502.3,388.6 L501.2,388.2 L500.2,387.8 L499.2,387.4 L498.2,387.1 L497.2,386.7 L496.2,386.3 L495.2,386.0 L494.1,385.6 L493.1,385.3 L492.1,384.9 L491.1,384.6 L490.1,384.2 L489.1,383.9 L488.1,383.6 L487.0,383.3 L486.0,383.0 L485.0,382.7 L484.0,382.4 L483.0,382.1 L482.0,381.8 L480.9,381.5 L479.9,381.2 L478.9,380.9 L477.9,380.6 L476.9,380.4 L475.9,380.1 L474.9,379.8 L473.9,379.6 L472.8,379.3 L471.8,379.1 L470.8,378.8 L469.8,378.6 L468.8,378.3 L467.8,378.1 L466.7,377.8 L465.7,377.6 L464.7,377.4 L463.7,377.1 L462.7,376.9 L461.7,376.7 L460.7,376.4 L459.6,376.2 L458.6,376.0 L457.6,375.8 L456.6,375.6 L455.6,375.4 L454.6,375.2 L453.6,375.0 L452.5,374.8 L451.5,374.6 L450.5,374.4 L449.5,374.2 L448.5,374.0 L447.5,373.8 L446.4,373.6 L445.4,373.5 L444.4,373.3 L443.4,373.1 L442.4,372.9 L441.4,372.8 L440.4,372.6 L439.4,372.4 L438.3,372.3 L437.3,372.1 L436.3,372.0 L435.3,371.8 L434.3,371.7 L433.3,371.5 L432.2,371.4 L431.2,371.3 L430.2,371.1 L429.2,371.0 L428.2,370.9 L427.2,370.7 L426.2,370.6 L425.1,370.5 L424.1,370.4 L423.1,370.3 L422.1,370.1" fill="none" stroke="#231f20" stroke-width="1.55" stroke-linejoin="round" stroke-linecap="round"/>
<path d="M542.9,464.0 L542.9,464.0 L542.9,462.1 L542.9,460.1 L542.9,458.2 L542.9,456.3 L542.9,454.4 L542.9,452.4 L542.9,450.5 L542.9,448.6 L542.9,446.7 L542.9,444.8 L543.0,442.8 L543.0,440.9 L543.0,439.0 L543.0,437.1 L543.0,435.1 L543.0,433.2 L543.1,431.3 L543.1,429.4 L543.1,427.4 L543.1,425.5 L543.2,423.6 L543.2,421.6 L543.3,419.7 L543.3,417.8 L543.4,415.9 L543.4,413.9 L543.5,412.0 L543.5,410.1 L543.6,408.1 L543.7,406.2 L543.8,404.3 L543.9,402.3 L544.0,400.4 L544.1,398.5 L544.2,396.5 L544.4,394.6 L544.5,392.6 L544.7,390.7 L544.9,388.8 L545.1,386.8 L545.3,384.9 L545.5,382.9 L545.8,380.9 L546.8,374.8 L547.8,370.1 L548.8,366.2 L549.9,362.9 L550.9,360.0 L551.9,357.5 L552.9,355.2 L553.9,353.2 L554.9,351.3 L555.9,349.5 L557.0,347.9 L558.0,346.4 L559.0,345.0 L560.0,343.7 L561.0,342.4 L562.0,341.2 L563.0,340.1 L564.0,339.0 L565.1,338.0 L566.1,337.0 L567.1,336.1 L568.1,335.2 L569.1,334.4 L570.1,333.5 L571.1,332.7 L572.2,332.0 L573.2,331.2 L574.2,330.5 L575.2,329.8 L576.2,329.1 L577.2,328.5 L578.2,327.9 L579.2,327.3 L580.3,326.7 L581.3,326.1 L582.3,325.6 L583.3,325.0 L584.3,324.5 L585.3,324.0 L586.4,323.5 L587.4,323.0 L588.4,322.5 L589.4,322.1 L590.4,321.6 L591.4,321.2 L592.4,320.8 L593.4,320.4 L594.5,320.0 L595.5,319.6 L596.5,319.2 L597.5,318.8 L598.5,318.4 L599.5,318.1 L600.5,317.7 L601.5,317.4 L602.6,317.1 L603.6,316.7 L604.6,316.4 L605.6,316.1 L606.6,315.8 L607.6,315.5 L608.6,315.2 L609.7,314.9 L610.7,314.6 L611.7,314.4 L612.7,314.1 L613.7,313.8 L614.7,313.6 L615.7,313.3 L616.8,313.1 L617.8,312.8 L618.8,312.6 L619.8,312.4 L620.8,312.1 L621.8,311.9 L622.8,311.7 L623.9,311.5 L624.9,311.2 L625.9,311.0 L626.9,310.8 L627.9,310.6 L628.9,310.4 L629.9,310.2 L631.0,310.0 L632.0,309.9 L633.0,309.7 L634.0,309.5 L635.0,309.3 L636.0,309.1 L637.0,308.9 L638.0,308.8 L639.1,308.6 L640.1,308.4 L641.1,308.3 L642.1,308.1 L643.1,308.0 L644.1,307.8 L645.1,307.6 L646.1,307.5 L647.2,307.3 L648.2,307.2 L649.2,307.0 L650.2,306.9 L651.2,306.7 L652.2,306.6 L653.2,306.4 L654.3,306.3 L655.3,306.2 L656.3,306.0 L657.3,305.9 L658.3,305.8 L659.3,305.6 L660.4,305.5 L661.4,305.4 L662.4,305.2 L663.4,305.1 L664.4,304.9" fill="none" stroke="#231f20" stroke-width="1.55" stroke-linejoin="round" stroke-linecap="round"/>
<path d="M543.0,476.7 L543.0,475.8 L543.0,474.2 L543.0,472.6 L543.0,471.1 L543.0,469.5 L543.0,468.0 L543.1,466.4 L543.1,464.9 L543.1,463.3 L543.1,461.8 L543.2,460.2 L543.2,458.6 L543.3,457.1 L543.3,455.5 L543.4,454.0 L543.4,452.4 L543.5,450.9 L543.5,449.4 L543.6,447.8 L543.7,446.2 L543.8,444.7 L543.9,443.2 L544.0,441.6 L544.1,440.1 L544.2,438.6 L544.4,437.0 L544.5,435.5 L544.7,433.9 L544.9,432.4 L545.1,430.9 L545.3,429.4 L545.5,427.9 L545.8,426.3 L546.8,421.6 L547.8,418.0 L548.9,415.1 L549.9,412.7 L550.9,410.6 L551.9,408.8 L552.9,407.1 L554.0,405.7 L555.0,404.4 L556.0,403.2 L557.0,402.0 L558.0,401.0 L559.0,400.1 L560.1,399.1 L561.1,398.3 L562.1,397.5 L563.1,396.8 L564.1,396.1 L565.2,395.4 L566.2,394.7 L567.2,394.1 L568.2,393.5 L569.2,392.9 L570.2,392.4 L571.3,391.9 L572.3,391.4 L573.3,390.9 L574.3,390.4 L575.4,389.9 L576.4,389.5 L577.4,389.1 L578.4,388.6 L579.4,388.2 L580.4,387.8 L581.5,387.4 L582.5,387.0 L583.5,386.7 L584.5,386.3 L585.5,385.9 L586.6,385.6 L587.6,385.2 L588.6,384.9 L589.6,384.6 L590.6,384.2 L591.6,383.9 L592.7,383.6 L593.7,383.3 L594.7,383.0 L595.7,382.7 L596.7,382.4 L597.8,382.1 L598.8,381.8 L599.8,381.5 L600.8,381.3 L601.8,381.0 L602.9,380.7 L603.9,380.4 L604.9,380.2 L605.9,379.9 L606.9,379.7 L608.0,379.4 L609.0,379.1 L610.0,378.9 L611.0,378.7 L612.0,378.4 L613.0,378.2 L614.1,377.9 L615.1,377.7 L616.1,377.5 L617.1,377.2 L618.1,377.0 L619.2,376.8 L620.2,376.6 L621.2,376.4 L622.2,376.1 L623.2,375.9 L624.2,375.7 L625.3,375.5 L626.3,375.3 L627.3,375.1 L628.3,374.9 L629.4,374.7 L630.4,374.5 L631.4,374.3 L632.4,374.1 L633.4,373.9 L634.4,373.7 L635.5,373.6 L636.5,373.4 L637.5,373.2" fill="none" stroke="#231f20" stroke-width="1.55" stroke-linejoin="round" stroke-linecap="round"/>
<path d="M463.2,310.6 L463.2,377.6" fill="none" stroke="#231f20" stroke-width="1.55" stroke-linejoin="round" stroke-linecap="round"/>
<path d="M637.5,373.2 L637.5,308.8" fill="none" stroke="#231f20" stroke-width="1.55" stroke-linejoin="round" stroke-linecap="round"/>
<path d="M535.2,414.3 L536.0,412.6 L536.6,416.5" fill="none" stroke="#231f20" stroke-width="1.2" stroke-linejoin="round" stroke-linecap="round"/>
<path d="M549.9,411.4 L549.5,423.2 L550.4,411.0" fill="none" stroke="#231f20" stroke-width="1.2" stroke-linejoin="round" stroke-linecap="round"/>
<path d="M541.3,444.0 L541.1,448.5 L541.9,451.0" fill="none" stroke="#231f20" stroke-width="1.2" stroke-linejoin="round" stroke-linecap="round"/>
<path d="M480.4,311.0 C475,307.6 466,305.4 461.0,308.3 C457.8,310.4 456.2,313.5 455.8,318" fill="none" stroke="#231f20" stroke-width="1.6" stroke-linecap="round"/>
<path d="M455.5,327.0 L452.4,315.7 L458.7,315.7Z" fill="#231f20"/>
<path d="M628.6,380.7 C633,380 638,378.5 640.5,375.5 C642,373.5 642.6,371 642.8,368" fill="none" stroke="#231f20" stroke-width="1.6" stroke-linecap="round"/>
<path d="M642.9,361.9 L640.2,372.3 L645.8,372.3Z" fill="#231f20"/>
<text x="431.90" y="300.90" font-size="15" font-weight="bold" text-anchor="start" textLength="44.2" lengthAdjust="spacingAndGlyphs">RESET</text>
<text x="651.30" y="378.70" font-size="15" font-weight="bold" text-anchor="start" textLength="25.6" lengthAdjust="spacingAndGlyphs">SET</text>
</svg>
</body></html>
